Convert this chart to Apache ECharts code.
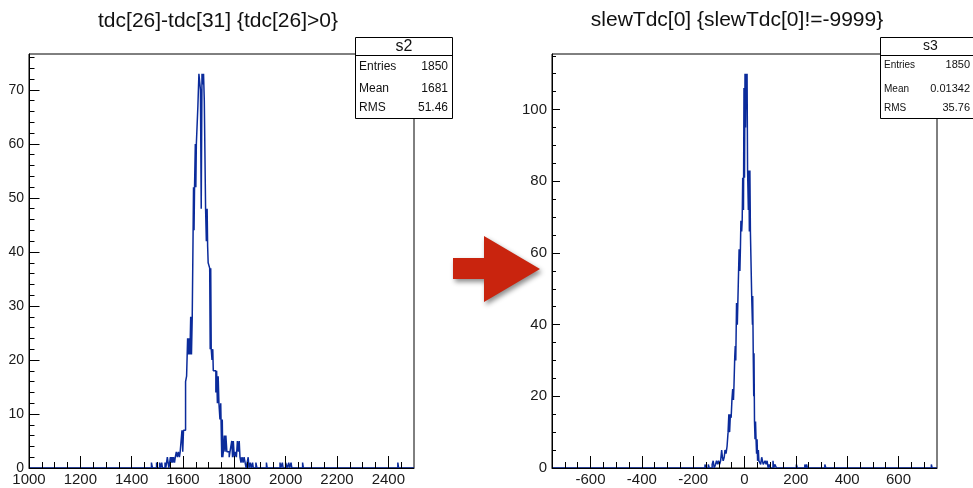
<!DOCTYPE html>
<html><head><meta charset="utf-8">
<script src="https://cdn.jsdelivr.net/npm/echarts@6/dist/echarts.min.js"></script>
<style>html,body{margin:0;padding:0;background:#fff}#c{width:973px;height:488px}</style>
</head><body><div id="c"></div>
<script>
const leftTitle = 'tdc[26]-tdc[31] {tdc[26]>0}';
const rightTitle = 'slewTdc[0] {slewTdc[0]!=-9999}';

// left histogram: bin lower edges and counts (count held until next edge)
const leftEdges = [1000,1477,1481,1497,1500,1509,1512,1517,1520,
  1530,1533,1536,1539,1542,1545,1548,1551,1554,1557,1560,
  1563,1567,1570,1574,1578,1582,1586,1589,1596,1599,1602,
  1610,1614,1618,1621,1624,1627,1630,1633,1636,
  1639,1641,1643,1645,1648,1650,1652,
  1658,1662,1668,1671,1674,1677,1680,1683,
  1688,1691,1694,1696,1698,1704,1706,1708,1710,1713,1716,1718,1728,1731,1734,1737,1740,1744,1747,
  1751,1753,1755,1757,1761,1764,1767,1771,1780,1783,1790,1793,1796,1800,1804,1808,1812,1816,1819,
  1822,1826,1830,1834,1838,1842,1846,1850,1854,1857,1862,1866,1871,1874,1884,1888,
  1925,1928,1978,1981,1987,1990,2000,2006,2012,2015,2021,2024,2066,2069,2437,2440,2500];
const leftCounts = [0,1,0,1,0,1,0,1,0,
  1,0,1,2,1,0,1,2,1,2,1,
  2,1,2,3,2,3,2,3,7,3,7,
  16,17,24,21,24,21,28,21,28,
  42,52,44,52,60,52,60,
  67,73,70,48,73,71,73,68,
  48,42,48,41,38,37,22,37,22,20,22,18,14,18,12,17,12,9,12,
  2,9,2,3,6,3,6,3,2,3,5,2,5,2,3,2,5,3,5,
  2,1,2,1,2,1,0,1,2,0,1,0,1,0,1,0,
  1,0,1,0,1,0,1,0,1,0,1,0,1,0,1,0,0];

// right histogram
const rightEdges = [-750,-154,-150,-141,-137,-126,-122,-118,-113,-109,-105,-101,-97,-93,
  -89,-86,-83,-79,-76,-72,-68,-64,-61,-58,-55,-52,-49,-46,-43,-41,-38,-36,-34,
  -31,-28,-26,-24,-21,-18,-16,-14,-11,-9,-7,-4,-2,0,2,4,6,8,10,
  12,15,17,19,21,23,28,31,32,34,36,37,39,41,43,45,47,49,51,54,56,
  63,67,73,80,84,88,92,96,100,111,114,118,125,
  202,206,235,239,242,245,313,317,728,731,750];
const rightCounts = [0,1,0,1,0,1,2,0,1,2,1,2,1,2,
  5,3,2,3,5,4,6,10,15,10,15,14,19,22,19,23,31,34,30,
  46,40,46,52,61,55,61,69,66,69,81,72,106,81,110,95,110,100,110,
  83,72,83,66,83,66,48,40,48,32,20,32,13,8,13,8,4,8,2,5,2,
  1,3,1,2,1,2,0,1,0,2,0,1,0,
  1,0,1,0,1,0,1,0,1,0,0];

const leftXLabels = [1000,1200,1400,1600,1800,2000,2200,2400];
const leftXMinor = [1050,1100,1150,1200,1250,1300,1350,1400,1450,1500,1550,1600,1650,1700,1750,1800,1850,1900,1950,2000,2050,2100,2150,2200,2250,2300,2350,2400,2450];
const leftYLabels = [0,10,20,30,40,50,60,70];
const leftYMinor = [2,4,6,8,12,14,16,18,22,24,26,28,32,34,36,38,42,44,46,48,52,54,56,58,62,64,66,68,72,74,76];
const rightXLabels = [-600,-400,-200,0,200,400,600];
const rightXMinor = [-700,-650,-600,-550,-500,-450,-400,-350,-300,-250,-200,-150,-100,-50,0,50,100,150,200,250,300,350,400,450,500,550,600,650,700];
const rightYLabels = [0,20,40,60,80,100];
const rightYMinor = [5,10,15,25,30,35,45,50,55,65,70,75,85,90,95,105,110,115];

const leftStats = [['Entries','1850'],['Mean','1681'],['RMS','51.46']];
const rightStats = [['Entries','1850'],['Mean','0.01342'],['RMS','35.76']];

const FONT = 'Liberation Sans, Arial, Helvetica, sans-serif';
const LINE = '#0b2b9b';
const plain = v => String(v);

function xAx(gi, min, max, vals, len, labels) {
  return {type:'value', gridIndex:gi, min:min, max:max, position:'bottom', z:5,
    axisLine:{show:labels, onZero:false, lineStyle:{color:'#000', width:1}},
    axisTick:{show:true, inside:true, length:len, customValues:vals, lineStyle:{color:'#000', width:1}},
    axisLabel:labels ? {show:true, customValues:vals, formatter:plain, fontSize:15, color:'#1a1a1a', margin:4, fontFamily:FONT} : {show:false},
    splitLine:{show:false}};
}
function yAx(gi, min, max, vals, len, labels, fs) {
  return {type:'value', gridIndex:gi, min:min, max:max, position:'left', z:5,
    axisLine:{show:labels, onZero:false, lineStyle:{color:'#000', width:1}},
    axisTick:{show:true, inside:true, length:len, customValues:vals, lineStyle:{color:'#000', width:1}},
    axisLabel:labels ? {show:true, customValues:vals, formatter:plain, fontSize:fs, color:'#1a1a1a', margin:5, fontFamily:FONT} : {show:false},
    splitLine:{show:false}};
}
function zip(e, c) { return e.map((v, i) => [v, c[i]]); }

function statsBox(x0, w, name, rows, hfs, lfs, vfs, rowsY, vx) {
  const els = [
    {type:'rect', shape:{x:x0+0.5, y:37.5, width:w, height:81}, style:{fill:'#fff', stroke:'#000', lineWidth:1}, z:100},
    {type:'line', shape:{x1:x0+0.5, y1:55.5, x2:x0+w+0.5, y2:55.5}, style:{stroke:'#000', lineWidth:1}, z:101},
    {type:'text', style:{x:x0+w/2+0.5, y:46.5, text:name, fill:'#111', font:hfs+'px '+FONT, align:'center', verticalAlign:'middle', textAlign:'center', textVerticalAlign:'middle'}, z:101}
  ];
  rows.forEach((r, i) => {
    els.push({type:'text', style:{x:x0+4, y:rowsY[i], text:r[0], fill:'#111', font:lfs+'px '+FONT, align:'left', verticalAlign:'middle', textAlign:'left', textVerticalAlign:'middle'}, z:101});
    els.push({type:'text', style:{x:vx, y:rowsY[i], text:r[1], fill:'#111', font:vfs+'px '+FONT, align:'right', verticalAlign:'middle', textAlign:'right', textVerticalAlign:'middle'}, z:101});
  });
  return els;
}

const chart = echarts.init(document.getElementById('c'), null, {renderer:'canvas'});
chart.setOption({
  animation:false,
  backgroundColor:'#fff',
  grid:[
    {left:29, top:54, width:385, height:414, show:true, borderColor:'#000', borderWidth:1, backgroundColor:'transparent'},
    {left:552, top:54, width:385, height:414, show:true, borderColor:'#000', borderWidth:1, backgroundColor:'transparent'}
  ],
  xAxis:[
    xAx(0, 1000, 2500, leftXLabels, 12, true),
    xAx(0, 1000, 2500, leftXMinor, 6, false),
    xAx(1, -750, 750, rightXLabels, 12, true),
    xAx(1, -750, 750, rightXMinor, 6, false)
  ],
  yAxis:[
    yAx(0, 0, 76.65, leftYLabels, 10.5, true, 14),
    yAx(0, 0, 76.65, leftYMinor, 5.5, false, 14),
    yAx(1, 0, 115.5, rightYLabels, 8, true, 15),
    yAx(1, 0, 115.5, rightYMinor, 4, false, 15)
  ],
  series:[
    {type:'line', xAxisIndex:0, yAxisIndex:0, step:'end', showSymbol:false, symbol:'none',
     data:zip(leftEdges, leftCounts), lineStyle:{color:LINE, width:1.5}, z:3},
    {type:'line', xAxisIndex:2, yAxisIndex:2, step:'end', showSymbol:false, symbol:'none',
     data:zip(rightEdges, rightCounts), lineStyle:{color:LINE, width:1.5}, z:3}
  ],
  graphic:[
    {type:'text', style:{x:218, y:21, text:leftTitle, fill:'#111', font:'21px '+FONT, align:'center', verticalAlign:'middle', textAlign:'center', textVerticalAlign:'middle'}, z:100},
    {type:'text', style:{x:737, y:20, text:rightTitle, fill:'#111', font:'21px '+FONT, align:'center', verticalAlign:'middle', textAlign:'center', textVerticalAlign:'middle'}, z:100},
    ...statsBox(355, 97, 's2', leftStats, 16, 12, 12, [67, 89, 108], 448),
    ...statsBox(880, 100, 's3', rightStats, 14, 10, 11, [65, 89, 108], 970),
    {type:'polygon', shape:{points:[[453,258],[484,258],[484,236],[540,269],[484,302],[484,279],[453,279]]},
     style:{fill:'#c9240e', shadowBlur:5, shadowColor:'rgba(0,0,0,0.45)', shadowOffsetX:2, shadowOffsetY:3}, z:100}
  ]
});
</script></body></html>
